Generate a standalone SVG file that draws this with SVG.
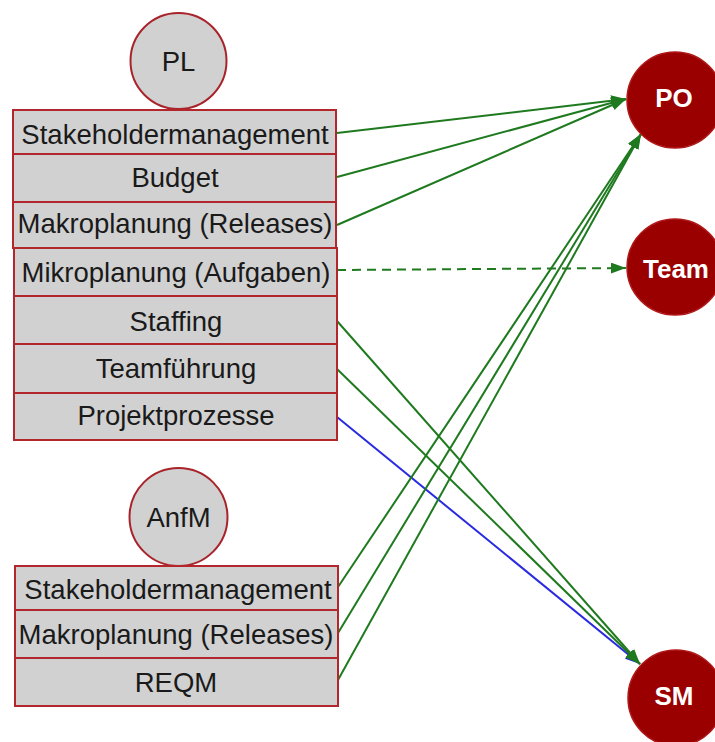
<svg xmlns="http://www.w3.org/2000/svg" width="715" height="742" viewBox="0 0 715 742">
<style>
.row{fill:#d1d1d1;stroke:#b3262b;stroke-width:2}
.role{fill:#d1d1d1;stroke:#a8232a;stroke-width:2}
.lbl{font-family:"Liberation Sans",Arial,sans-serif;font-size:27.5px;fill:#1a1a1a;text-anchor:middle}
.tgt{fill:#9b0000;stroke:#b01818;stroke-width:1.5}
.tl{font-family:"Liberation Sans",Arial,sans-serif;font-weight:bold;font-size:26px;fill:#ffffff;text-anchor:middle}
.g{stroke:#1f7a1f;stroke-width:2;fill:none}
.b{stroke:#2a2ae0;stroke-width:2;fill:none}
</style>
<defs>
<marker id="ag" markerUnits="userSpaceOnUse" viewBox="0 0 15 11" refX="15" refY="5.5" markerWidth="15" markerHeight="11" orient="auto">
<path d="M0,0 L15,5.5 L0,11 z" fill="#1f7a1f"/>
</marker>
<marker id="ab" markerUnits="userSpaceOnUse" viewBox="0 0 15 11" refX="15" refY="5.5" markerWidth="15" markerHeight="11" orient="auto">
<path d="M0,0 L15,5.5 L0,11 z" fill="#2a2ae0"/>
</marker>
</defs>
<rect width="715" height="742" fill="#ffffff"/>

<g id="connectors">
<line class="b" x1="337" y1="417" x2="640" y2="664" marker-end="url(#ab)"/>
<line class="g" x1="337" y1="133" x2="626" y2="99" marker-end="url(#ag)"/>
<line class="g" x1="337" y1="177" x2="626" y2="99" marker-end="url(#ag)"/>
<line class="g" x1="337" y1="225" x2="626" y2="99" marker-end="url(#ag)"/>
<line class="g" x1="337" y1="270" x2="626" y2="268" stroke-dasharray="9,6" marker-end="url(#ag)"/>
<line class="g" x1="337" y1="321" x2="640" y2="664" marker-end="url(#ag)"/>
<line class="g" x1="337" y1="369" x2="640" y2="664" marker-end="url(#ag)"/>
<line class="g" x1="338" y1="587" x2="641" y2="134" marker-end="url(#ag)"/>
<line class="g" x1="338" y1="633" x2="641" y2="134" marker-end="url(#ag)"/>
<line class="g" x1="338" y1="680" x2="641" y2="134" marker-end="url(#ag)"/>
</g>

<g id="PL">
<circle class="role" cx="178.5" cy="61" r="48"/>
<text class="lbl" x="178.5" y="71">PL</text>
</g>
<g id="PL-stakeholdermanagement">
<rect class="row" x="13" y="110" width="323" height="44"/>
<text class="lbl" x="175" y="144">Stakeholdermanagement</text>
</g>
<g id="PL-budget">
<rect class="row" x="13" y="154" width="323" height="48"/>
<text class="lbl" x="175" y="187">Budget</text>
</g>
<g id="PL-makroplanung">
<rect class="row" x="13" y="202" width="323" height="46"/>
<text class="lbl" x="175" y="233">Makroplanung (Releases)</text>
</g>
<g id="PL-mikroplanung">
<rect class="row" x="14" y="248" width="323" height="48"/>
<text class="lbl" x="176" y="282">Mikroplanung (Aufgaben)</text>
</g>
<g id="PL-staffing">
<rect class="row" x="14" y="296" width="323" height="48"/>
<text class="lbl" x="176" y="331">Staffing</text>
</g>
<g id="PL-teamfuehrung">
<rect class="row" x="14" y="344" width="323" height="49"/>
<text class="lbl" x="176" y="378">Teamführung</text>
</g>
<g id="PL-projektprozesse">
<rect class="row" x="14" y="393" width="323" height="47"/>
<text class="lbl" x="176" y="425">Projektprozesse</text>
</g>

<g id="AnfM">
<circle class="role" cx="178.5" cy="517" r="49"/>
<text class="lbl" x="178.5" y="527">AnfM</text>
</g>
<g id="AnfM-stakeholdermanagement">
<rect class="row" x="15" y="566" width="323" height="44"/>
<text class="lbl" x="178" y="599">Stakeholdermanagement</text>
</g>
<g id="AnfM-makroplanung">
<rect class="row" x="15" y="610" width="323" height="48"/>
<text class="lbl" x="176" y="644">Makroplanung (Releases)</text>
</g>
<g id="AnfM-reqm">
<rect class="row" x="15" y="658" width="323" height="48"/>
<text class="lbl" x="176" y="692">REQM</text>
</g>

<g id="PO">
<circle class="tgt" cx="675" cy="100" r="48"/>
<text class="tl" x="674" y="107">PO</text>
</g>
<g id="Team">
<circle class="tgt" cx="675" cy="267" r="48"/>
<text class="tl" x="676" y="278">Team</text>
</g>
<g id="SM">
<circle class="tgt" cx="676" cy="698" r="48"/>
<text class="tl" x="674" y="705">SM</text>
</g>
</svg>
